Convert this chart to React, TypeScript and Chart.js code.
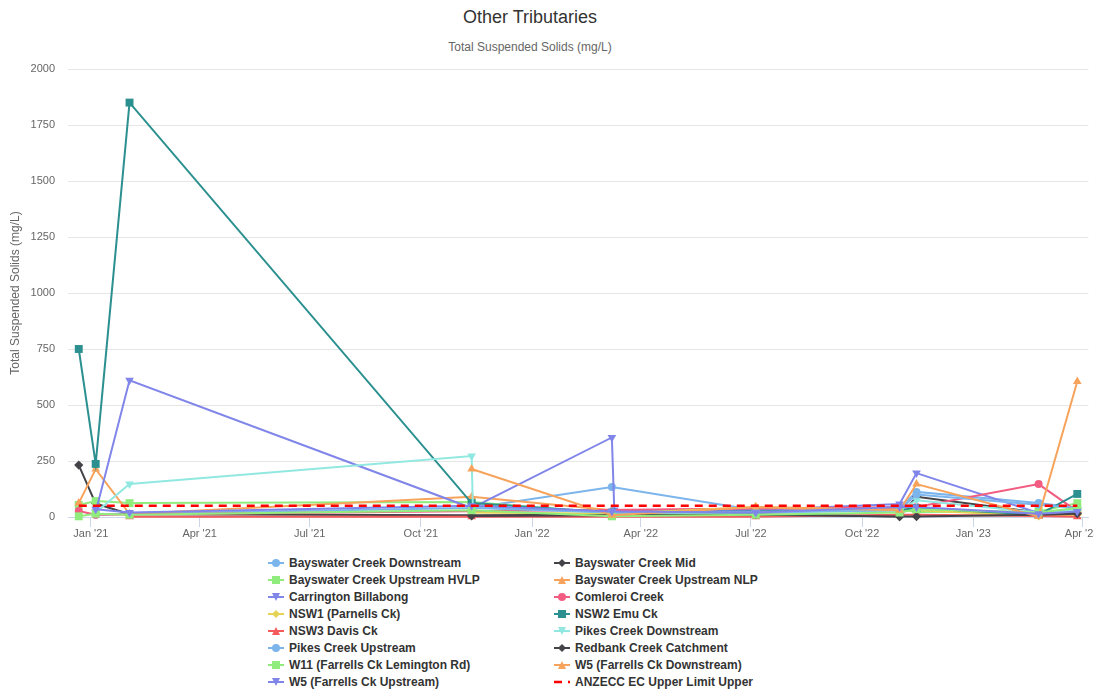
import React, { useEffect, useRef } from 'react';
import { Chart, registerables } from 'chart.js';

Chart.register(...registerables);

// ---- Data ----
const sampleDates = [
  '2020-12-22', '2021-01-05', '2021-02-02', '2021-11-12', '2021-11-13', '2022-03-08',
  '2022-03-10', '2022-07-05', '2022-11-01', '2022-11-15', '2023-02-24', '2023-03-28',
];

const bayswaterDownstream = [null, 10, 15, 40, null, 134, null, 30, 40, 112, 62, 40];
const bayswaterMid = [232, 60, 12, 8, null, 10, null, 12, 2, 90, 20, 18];
const bayswaterUpstreamHVLP = [54, 71, 62, 67, null, 15, null, 20, 35, 22, 25, 62];
const bayswaterUpstreamNLP = [62, 214, 13, 90, null, 30, null, 35, 40, 40, 10, 30];
const carringtonBillabong = [null, 22, 610, 40, null, 355, 31, 31, 58, 196, 18, 30];
const comleroiCreek = [27, 10, null, null, null, null, null, null, null, 45, 147, 25];
const nsw1Parnells = [null, null, null, 20, null, 15, null, 45, 30, 30, 5, 10];
const nsw2Emu = [750, 237, 1850, 62, null, 20, null, 25, 30, 40, 10, 103];
const nsw3Davis = [null, null, 1, 1, null, 1, null, 1, 10, 10, 5, 1];
const pikesDownstream = [null, 20, 147, 272, 45, 20, null, 20, 30, 75, 20, 30];
const pikesUpstream = [null, null, null, null, 40, 20, null, 20, 30, 100, 55, 40];
const redbankCatchment = [null, null, null, 5, null, 8, null, 10, 2, 2, 10, 15];
const w11Lemington = [3, 15, 10, 30, null, 3, null, 10, 20, 35, 20, 40];
const w5Downstream = [null, null, null, 214, null, 8, null, 45, 30, 147, 2, 605];
const w5Upstream = [null, 35, 20, 50, null, 25, null, 20, 45, 45, 15, 25];
const anzeccLimit = [50, 50, 50, 50, 50, 50, 50, 50, 50, 50, 50, 50];

const seriesNames = [
  'Bayswater Creek Downstream', 'Bayswater Creek Mid', 'Bayswater Creek Upstream HVLP',
  'Bayswater Creek Upstream NLP', 'Carrington Billabong', 'Comleroi Creek',
  'NSW1 (Parnells Ck)', 'NSW2 Emu Ck', 'NSW3 Davis Ck', 'Pikes Creek Downstream',
  'Pikes Creek Upstream', 'Redbank Creek Catchment', 'W11 (Farrells Ck Lemington Rd)',
  'W5 (Farrells Ck Downstream)', 'W5 (Farrells Ck Upstream)', 'ANZECC EC Upper Limit Upper',
];
const seriesValues = [
  bayswaterDownstream, bayswaterMid, bayswaterUpstreamHVLP, bayswaterUpstreamNLP,
  carringtonBillabong, comleroiCreek, nsw1Parnells, nsw2Emu, nsw3Davis, pikesDownstream,
  pikesUpstream, redbankCatchment, w11Lemington, w5Downstream, w5Upstream, anzeccLimit,
];
const seriesColors = [
  '#7cb5ec', '#434348', '#90ed7d', '#f7a35c', '#8085e9', '#f15c80', '#e4d354', '#2b908f',
  '#f45b5b', '#91e8e1', '#7cb5ec', '#434348', '#90ed7d', '#f7a35c', '#8085e9', '#ff0000',
];
const seriesMarkers = [
  'circle', 'diamond', 'square', 'triangle', 'triangle-down', 'circle', 'diamond', 'square',
  'triangle', 'triangle-down', 'circle', 'diamond', 'square', 'triangle', 'triangle-down', 'none',
];

const tickDates = [
  '2021-01-01', '2021-04-01', '2021-07-01', '2021-10-01', '2022-01-01',
  '2022-04-01', '2022-07-01', '2022-10-01', '2023-01-01', '2023-04-01',
];
const tickLabels = [
  "Jan '21", "Apr '21", "Jul '21", "Oct '21", "Jan '22",
  "Apr '22", "Jul '22", "Oct '22", "Jan '23", "Apr '23",
];

const ORIGIN = Date.UTC(2021, 0, 1);
const DAY = 86400000;
const toDay = (s: string) => (Date.parse(s) - ORIGIN) / DAY;

const FONT = '"Liberation Sans", Arial, sans-serif';

function markerStyle(m: string) {
  switch (m) {
    case 'circle': return { pointStyle: 'circle', radius: 4, rotation: 0 };
    case 'diamond': return { pointStyle: 'rectRot', radius: 4.6, rotation: 0 };
    case 'square': return { pointStyle: 'rect', radius: 5.6, rotation: 0 };
    case 'triangle': return { pointStyle: 'triangle', radius: 5, rotation: 0 };
    case 'triangle-down': return { pointStyle: 'triangle', radius: 5, rotation: 180 };
    default: return { pointStyle: 'circle', radius: 0, rotation: 0 };
  }
}

function LegendSymbol({ color, marker }: { color: string; marker: string }) {
  let shape: React.ReactNode = null;
  if (marker === 'circle') shape = <circle cx={8} cy={6} r={4} fill={color} />;
  else if (marker === 'square') shape = <rect x={4} y={2} width={8} height={8} fill={color} />;
  else if (marker === 'diamond') shape = <polygon points="8,2 12,6 8,10 4,6" fill={color} />;
  else if (marker === 'triangle') shape = <polygon points="8,2 12,10 4,10" fill={color} />;
  else if (marker === 'triangle-down') shape = <polygon points="4,2 12,2 8,10" fill={color} />;
  return (
    <svg width={16} height={12} style={{ display: 'block' }}>
      <line x1={0} y1={6} x2={16} y2={6} stroke={color} strokeWidth={marker === 'none' ? 2.5 : 2}
        strokeDasharray={marker === 'none' ? '8,6' : undefined} />
      {shape}
    </svg>
  );
}

export default function App() {
  const canvasRef = useRef<HTMLCanvasElement | null>(null);

  useEffect(() => {
    if (!canvasRef.current) return;
    const xs = sampleDates.map(toDay);
    const datasets = seriesValues.map((vals, i) => {
      const ms = markerStyle(seriesMarkers[i]);
      const isLimit = seriesMarkers[i] === 'none';
      return {
        label: seriesNames[i],
        data: vals.map((v, j) => ({ x: xs[j], y: v })),
        borderColor: seriesColors[i],
        backgroundColor: seriesColors[i],
        borderWidth: isLimit ? 2.5 : 2,
        borderDash: isLimit ? [8, 6] : undefined,
        pointStyle: ms.pointStyle,
        pointRadius: ms.radius,
        pointRotation: ms.rotation,
        pointBorderWidth: 0,
        pointBackgroundColor: seriesColors[i],
        spanGaps: true,
        tension: 0,
        clip: false,
        order: seriesValues.length - i,
      };
    });
    const tickDays = tickDates.map(toDay);

    const chart = new Chart(canvasRef.current, {
      type: 'line',
      data: { datasets: datasets as any },
      options: {
        responsive: false,
        animation: false,
        layout: { padding: { top: 69, right: 1, bottom: 0, left: 0 } },
        plugins: {
          legend: { display: false },
          tooltip: { enabled: false },
          title: { display: false },
        },
        font: { family: FONT },
        scales: {
          x: {
            type: 'linear',
            min: -18.9,
            max: 825.2,
            afterBuildTicks: (scale: any) => {
              scale.ticks = tickDays.map((v) => ({ value: v }));
            },
            afterFit: (scale: any) => {
              scale.height = 28;
              scale.paddingLeft = 0;
              scale.paddingRight = 0;
            },
            ticks: {
              autoSkip: false,
              maxRotation: 0,
              minRotation: 0,
              padding: 0,
              color: '#666666',
              font: { family: FONT, size: 11 },
              callback: (value: any) => {
                const idx = tickDays.findIndex((d) => Math.abs(d - value) < 0.01);
                return idx >= 0 ? tickLabels[idx] : '';
              },
            },
            grid: {
              drawOnChartArea: false,
              drawTicks: true,
              tickLength: 10,
              color: '#ccd6eb',
            },
            border: { display: true, color: '#ccd6eb' },
          },
          y: {
            type: 'linear',
            min: 0,
            max: 2000,
            afterFit: (scale: any) => {
              scale.width = 68;
              scale.paddingTop = 0;
              scale.paddingBottom = 0;
            },
            ticks: {
              stepSize: 250,
              padding: 13,
              color: '#666666',
              font: { family: FONT, size: 11 },
              callback: (value: any) => String(value),
            },
            grid: { color: '#e6e6e6', drawTicks: false },
            border: { display: false },
            title: {
              display: true,
              text: 'Total Suspended Solids (mg/L)',
              color: '#666666',
              font: { family: FONT, size: 12 },
              padding: { top: 8, bottom: 0 },
            },
          },
        },
      } as any,
    });
    return () => chart.destroy();
  }, []);

  return (
    <div style={{ position: 'absolute', left: 0, top: 0, width: 1094, height: 692, background: '#ffffff', fontFamily: FONT, overflow: 'hidden' }}>
      <div style={{ position: 'absolute', left: 0, top: 6, width: 1060, textAlign: 'center', fontSize: 18, lineHeight: '22px', color: '#333333' }}>
        Other Tributaries
      </div>
      <div style={{ position: 'absolute', left: 0, top: 39, width: 1060, textAlign: 'center', fontSize: 12, lineHeight: '16px', color: '#666666' }}>
        Total Suspended Solids (mg/L)
      </div>
      <canvas ref={canvasRef} width={1094} height={545} style={{ position: 'absolute', left: 0, top: 0, width: 1094, height: 545 }} />
      {seriesNames.map((name, i) => {
        const col = i % 2;
        const row = Math.floor(i / 2);
        return (
          <div key={name} style={{
            position: 'absolute', left: col === 0 ? 268 : 554, top: 555 + row * 17,
            height: 16, display: 'flex', alignItems: 'center', whiteSpace: 'nowrap',
          }}>
            <LegendSymbol color={seriesColors[i]} marker={seriesMarkers[i]} />
            <span style={{ marginLeft: 5, fontSize: 12, fontWeight: 'bold', color: '#333333' }}>{name}</span>
          </div>
        );
      })}
    </div>
  );
}
